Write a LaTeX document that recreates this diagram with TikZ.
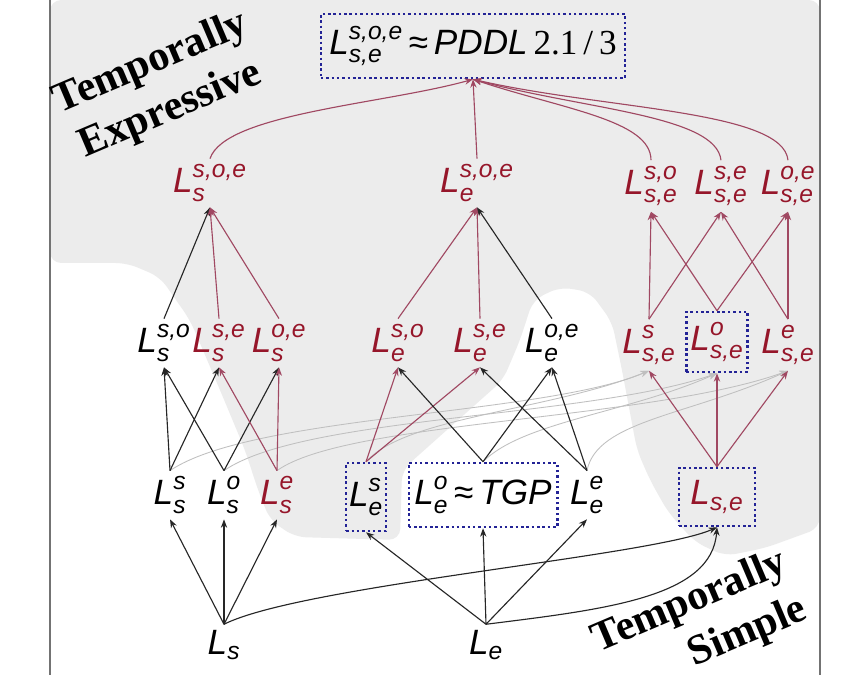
\documentclass[tikz,border=0pt]{standalone}
\usepackage{amsmath}
\usepackage{fontspec}
\setmainfont{Liberation Sans}
\newfontfamily\tnr{Liberation Serif}
\usetikzlibrary{arrows.meta}

\definecolor{lred}{RGB}{150,22,42}
\definecolor{ered}{RGB}{160,72,98}
\definecolor{dblue}{RGB}{35,35,150}
\definecolor{bggray}{RGB}{236,236,236}

\newcommand{\Lg}[2]{$\text{\itshape L}^{\text{\itshape #2}}_{\text{\itshape #1}}$}
\newcommand{\Lb}[1]{$\text{\itshape L}_{\text{\itshape #1}}$}

\begin{document}
\begin{tikzpicture}[x=0.025cm, y=-0.025cm,
    lang/.style={inner sep=4pt, font=\fontsize{25}{28}\selectfont},
    rlang/.style={lang, text=lred},
    dbox/.style={draw=dblue, line width=1.8pt, dotted, minimum height=1.6cm},
    edge/.style={-{Stealth[length=6pt,width=4.5pt]}, line width=0.8pt, draw=black!85},
    redge/.style={edge, draw=ered},
    gedge/.style={edge, draw=black!25, line width=0.6pt},
    tlabel/.style={font={\tnr\bfseries\fontsize{30}{36}\selectfont}, rotate=23}]
    %%%%% START %%%%%
    \useasboundingbox (0,0) rectangle (864,682);
    \fill[white] (0,0) rectangle (864,682);
    \fill[bggray, rounded corners=8pt] (50,0) -- (820,0) -- (820,528) -- (765,548) -- (725,556)
        -- (695,542) -- (668,512) -- (650,480) -- (637,450) -- (622,370) -- (612,322)
        -- (590,292) -- (560,287) -- (533,300) -- (520,340) -- (503,380) -- (402,470)
        -- (400,540) -- (295,537) -- (270,520) -- (258,490) -- (245,450) -- (220,390)
        -- (190,320) -- (160,277) -- (127,263) -- (50,263) -- cycle;
    \draw[black!55, line width=1pt] (50,0) -- (50,675);
    \draw[black!55, line width=1pt] (820,0) -- (820,675);

    \node[tlabel, align=center] (expr) at (161,87) {Temporally\\Expressive};
    \node[tlabel, align=right] (simp) at (700,626) {Temporally\\Simple};

    \node[lang, dbox, inner xsep=6pt] (pddl) at (473,46) {\Lg{s,e}{s,o,e}\,≈\,\textit{PDDL}\,{\tnr 2.1\,/\,3}};

    \node[rlang] (LsA) at (210,183) {\Lg{s}{s,o,e}};
    \node[rlang] (LeA) at (477,183) {\Lg{e}{s,o,e}};
    \node[rlang] (LseSO) at (651,186) {\Lg{s,e}{s,o}};
    \node[rlang] (LseSE) at (721,186) {\Lg{s,e}{s,e}};
    \node[rlang] (LseOE) at (788,186) {\Lg{s,e}{o,e}};

    \node[lang] (LsSO) at (164,343) {\Lg{s}{s,o}};
    \node[rlang] (LsSE) at (219,343) {\Lg{s}{s,e}};
    \node[rlang] (LsOE) at (279,343) {\Lg{s}{o,e}};
    \node[rlang] (LeSO) at (398,343) {\Lg{e}{s,o}};
    \node[rlang] (LeSE) at (480,343) {\Lg{e}{s,e}};
    \node[lang] (LeOE) at (552,343) {\Lg{e}{o,e}};
    \node[rlang] (LseS) at (649,345) {\Lg{s,e}{s}};
    \node[rlang, dbox, inner xsep=3pt, minimum height=1.5cm] (LseO) at (717,342) {\Lg{s,e}{o}};
    \node[rlang] (LseE) at (788,345) {\Lg{s,e}{e}};

    \node[lang] (LsS) at (170,495) {\Lg{s}{s}};
    \node[lang] (LsO) at (224,495) {\Lg{s}{o}};
    \node[rlang] (LsE) at (277,495) {\Lg{s}{e}};
    \node[lang, dbox, inner xsep=2pt, minimum height=1.7cm] (LeS) at (366,497) {\Lg{e}{s}};
    \node[lang, dbox, inner xsep=4pt] (LeO) at (483,495) {\Lg{e}{o}\,≈\,\textit{TGP}};
    \node[lang] (LeE) at (587,495) {\Lg{e}{e}};
    \node[rlang, dbox, minimum width=1.9cm, minimum height=1.45cm] (Lse) at (717,497) {\Lb{s,e}};

    \node[lang] (Ls) at (224,645) {\Lb{s}};
    \node[lang] (Le) at (486,645) {\Lb{e}};

    % grey links into the s,e row
    \draw[gedge] (LsS.north) .. controls +(83,-56) and +(-108,45) .. (LseS.south);
    \draw[gedge] (LeS.north) .. controls +(40,-45) and +(-100,40) .. (LseS.south);
    \draw[gedge] (LsO.north) .. controls +(80,-55) and +(-130,45) .. (LseO.south);
    \draw[gedge] (LeO.north) .. controls +(40,-40) and +(-90,40) .. (LseO.south);
    \draw[gedge] (LsE.north) .. controls +(70,-50) and +(-140,50) .. (LseE.south);
    \draw[gedge] (LeE.north) .. controls +(10,-50) and +(-100,45) .. (LseE.south);

    % bottom
    \draw[edge] (Ls.north) -- (LsS.south);
    \draw[edge] (Ls.north) -- (LsO.south);
    \draw[edge] (Ls.north) -- (LsE.south);
    \draw[edge] (Ls.north) .. controls +(78,-39) and +(-65,29) .. (Lse.south);
    \draw[edge] (Le.north) -- (LeS.south);
    \draw[edge] (Le.north) -- (LeO.south);
    \draw[edge] (Le.north) -- (LeE.south);
    \draw[edge] (Le.north) .. controls +(120,-15) and +(-5,70) .. (Lse.south);

    % third row to second row
    \draw[edge] (LsS.north) -- (LsSO.south);
    \draw[edge] (LsS.north) -- (LsSE.south);
    \draw[edge] (LsO.north) -- (LsSO.south);
    \draw[edge] (LsO.north) -- (LsOE.south);
    \draw[redge] (LsE.north) -- (LsSE.south);
    \draw[redge] (LsE.north) -- (LsOE.south);
    \draw[redge] (LeS.north) -- (LeSO.south);
    \draw[redge] (LeS.north) -- (LeSE.south);
    \draw[edge] (LeO.north) -- (LeSO.south);
    \draw[edge] (LeO.north) -- (LeOE.south);
    \draw[edge] (LeE.north) -- (LeSE.south);
    \draw[edge] (LeE.north) -- (LeOE.south);
    \draw[redge] (Lse.north) -- (LseS.south);
    \draw[redge] (Lse.north) -- (LseO.south);
    \draw[redge] (Lse.north) -- (LseE.south);

    % second row to first row
    \draw[edge] (LsSO.north) -- (LsA.south);
    \draw[redge] (LsSE.north) -- (LsA.south);
    \draw[redge] (LsOE.north) -- (LsA.south);
    \draw[redge] (LeSO.north) -- (LeA.south);
    \draw[redge] (LeSE.north) -- (LeA.south);
    \draw[edge] (LeOE.north) -- (LeA.south);
    \draw[redge] (LseS.north) -- (LseSO.south);
    \draw[redge] (LseS.north) -- (LseSE.south);
    \draw[redge] (LseO.north) -- (LseSO.south);
    \draw[redge] (LseO.north) -- (LseOE.south);
    \draw[redge] (LseE.north) -- (LseSE.south);
    \draw[redge] (LseE.north) -- (LseOE.south);

    % first row to the top
    \draw[redge] (LsA.north) .. controls +(15,-45) and +(-90,25) .. (pddl.south);
    \draw[redge] (LeA.north) -- (pddl.south);
    \draw[redge] (LseSO.north) .. controls +(0,-40) and +(90,30) .. (pddl.south);
    \draw[redge] (LseSE.north) .. controls +(-5,-45) and +(110,30) .. (pddl.south);
    \draw[redge] (LseOE.north) .. controls +(-5,-50) and +(130,30) .. (pddl.south);
    %%%%% END %%%%%
\end{tikzpicture}
\end{document}
